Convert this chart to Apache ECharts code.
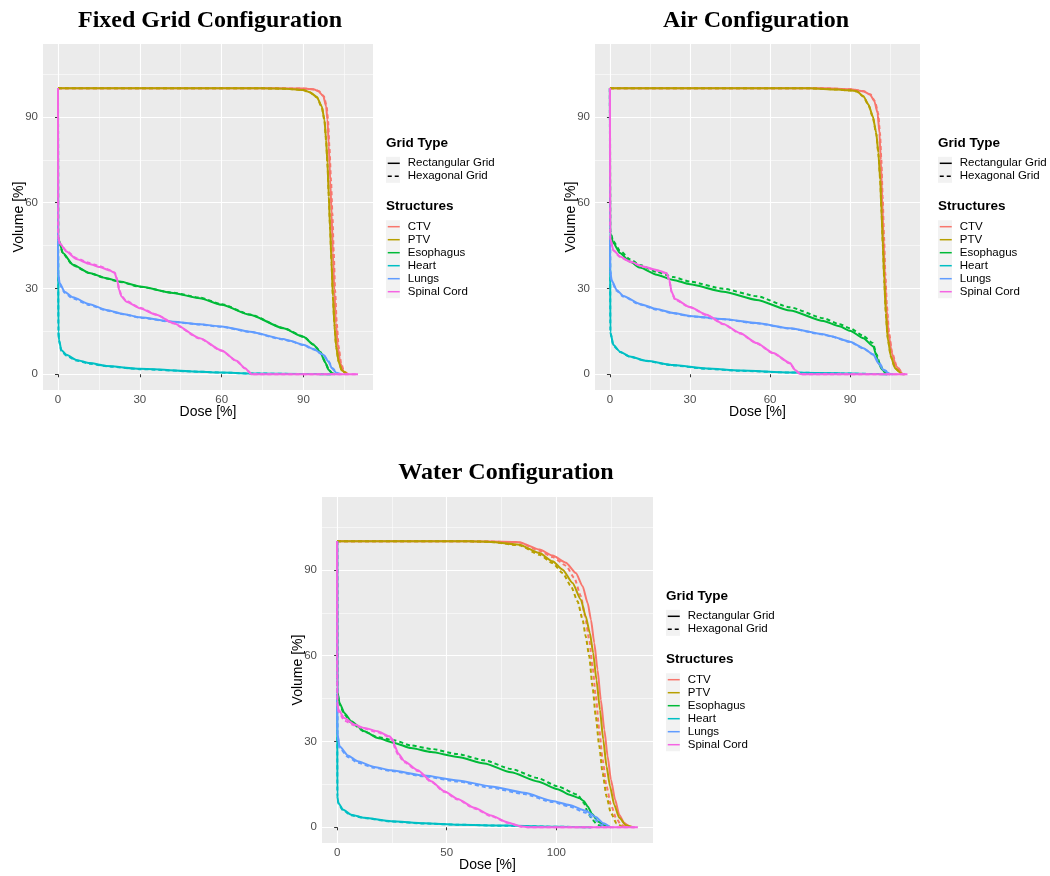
<!DOCTYPE html>
<html>
<head>
<meta charset="utf-8">
<script src="https://cdn.jsdelivr.net/npm/echarts@6/dist/echarts.min.js"></script>
<style>
  html, body { margin: 0; padding: 0; background: #ffffff; }
  #chart { width: 1050px; height: 876px; }
</style>
</head>
<body>
<div id="chart"></div>
<script>
// ---- Categories, labels and ticks ----
const structures = ['CTV', 'PTV', 'Esophagus', 'Heart', 'Lungs', 'Spinal Cord'];
const gridTypes = ['Rectangular Grid', 'Hexagonal Grid'];
const structureColors = ['#F8766D', '#B79F00', '#00BA38', '#00BFC4', '#619CFF', '#F564E3'];
const panelTitles = ['Fixed Grid Configuration', 'Air Configuration', 'Water Configuration'];
const volumeTicks = [0, 30, 60, 90];
const volumeMinorTicks = [15, 45, 75, 105];
const doseTicksFixed = [0, 30, 60, 90];
const doseMinorFixed = [15, 45, 75, 105];
const doseTicksAir = [0, 30, 60, 90];
const doseMinorAir = [15, 45, 75, 105];
const doseTicksWater = [0, 50, 100];
const doseMinorWater = [25, 75, 125];

// ---- Dose-volume curves: [dose %, volume %] ----
// Fixed grid configuration
const fixedCTVRect = [[0,100],[80,100],[90,99.9],[94,99.6],[95.5,99],[97.3,97.2],[98.3,93.7],[98.8,89],[99.3,79.7],[99.8,68],[100.3,56.4],[100.8,42.4],[101.3,29.5],[101.9,17.9],[102.6,9.7],[103.5,3.9],[104.7,0.9],[106.2,0]];
const fixedCTVHex = [[0,100],[80,100],[90,99.9],[94.2,99.6],[95.7,99],[97.5,97.2],[98.5,93.7],[99,89],[99.5,79.7],[100.1,68],[100.6,56.4],[101.1,42.4],[101.6,29.5],[102.2,17.9],[102.9,9.7],[103.8,3.9],[104.9,0.9],[106.4,0]];
const fixedPTVRect = [[0,100],[75,100],[85,99.8],[90,99.4],[92.4,98.6],[94.9,97],[96.7,93.7],[97.7,89],[98.3,82],[98.8,73.9],[99.3,62.2],[99.8,50.5],[100.3,38.9],[100.8,27.2],[101.4,16.7],[102,9.7],[102.9,4.4],[104.1,1.3],[105.9,0]];
const fixedPTVHex = [[0,100],[75,100],[85,99.8],[90,99.3],[92.4,98.5],[94.9,96.9],[96.7,93.5],[97.7,88.8],[98.3,81.8],[98.8,73.7],[99.3,62],[99.8,50.3],[100.3,38.7],[100.8,27],[101.4,16.5],[102,9.6],[102.9,4.3],[104.1,1.2],[106,0]];
const fixedEsoRect = [[0,100],[0.05,48.2],[0.3,47],[1.8,42.4],[5.5,38.3],[11.6,35.4],[17.8,33.6],[22.7,32.4],[30,30.7],[42.2,28.4],[52,26.6],[60,24.3],[70.4,20.8],[82.6,16.1],[90,13.1],[93.7,10.3],[96.1,7.9],[98,4.1],[99.2,1.6],[100.5,0.4],[101.6,0]];
const fixedEsoHex = [[0,100],[0.05,48],[0.3,46.8],[1.8,42.2],[5.5,38.1],[11.6,35.3],[17.8,33.5],[22.7,32.3],[30,30.6],[42.2,28.5],[52,26.8],[60,24.5],[70.4,20.9],[82.6,16.2],[90,13.2],[93.7,10.4],[96.1,8],[98,4.3],[99.2,1.7],[100.5,0.4],[101.8,0]];
const fixedHeartRect = [[0,100],[0.05,47],[0.15,15],[0.4,12],[1.2,8.5],[3.1,6.8],[6.7,5],[11.6,3.9],[17.8,2.9],[30,1.9],[52,0.9],[60,0.6],[70,0.3],[88.8,0.1],[100,0]];
const fixedHeartHex = [[0,100],[0.05,46.5],[0.15,14.5],[0.4,11.6],[1.2,8.2],[3.1,6.5],[6.7,4.8],[11.6,3.7],[17.8,2.8],[30,1.8],[52,0.9],[60,0.6],[70,0.3],[88.8,0.1],[100,0]];
const fixedLungsRect = [[0,100],[0.02,47],[0.05,35.4],[0.6,31.9],[2.4,28.9],[5.5,26.9],[11.6,24.5],[17.8,22.5],[23.9,21.1],[30,19.9],[42.2,18.4],[52,17.5],[60,16.7],[70.4,14.9],[82.6,12.3],[85.1,11.7],[90,10.3],[93.7,8.8],[97.3,6.8],[99.2,4.4],[100.4,2.1],[102.2,0.4],[103.5,0]];
const fixedLungsHex = [[0,100],[0.02,46.5],[0.05,35],[0.6,31.5],[2.4,28.5],[5.5,26.5],[11.6,24.2],[17.8,22.3],[23.9,21],[30,19.8],[42.2,18.3],[52,17.4],[60,16.6],[70.4,14.8],[82.6,12.2],[85.1,11.6],[90,10.2],[93.7,8.7],[97.3,6.8],[99.2,4.6],[100.6,2.2],[102.5,0.4],[103.8,0]];
const fixedSpinalRect = [[0,100],[0.05,48.2],[0.6,45.9],[3.1,42.9],[6.7,40.3],[11.6,38.6],[15.3,37.5],[19,36.3],[20.8,35.4],[21.7,33],[22.4,29.5],[23.3,27.2],[25.1,25.4],[30,23.1],[36.1,20.8],[42.2,17.9],[52,12.6],[60,8.3],[65.5,4.7],[68.6,2.1],[71,0],[110,0]];
const fixedSpinalHex = [[0,100],[0.05,48],[0.6,45.7],[3.1,43.2],[6.7,40.6],[11.6,38.9],[15.3,37.8],[19,36.5],[20.8,35.6],[21.7,33.2],[22.4,29.8],[23.3,27.4],[25.1,25.6],[30,23.3],[36.1,20.9],[42.2,17.8],[52,12.5],[60,8.2],[65.5,4.6],[68.6,2],[71.2,0],[110,0]];

// Air configuration
const airCTVRect = [[0,100],[80,100],[90,99.7],[95,99],[97.5,97.8],[99.1,95.5],[100.3,91.4],[101,84.4],[101.5,75],[102,62.2],[102.5,48.2],[103,35.4],[103.6,23.7],[104.4,14.4],[105.6,7.4],[107.3,2.7],[109.8,0.1],[110.5,0]];
const airCTVHex = [[0,100],[80,100],[90,99.7],[95.2,99],[97.7,97.8],[99.3,95.5],[100.5,91.4],[101.2,84.4],[101.7,75],[102.2,62.2],[102.7,48.2],[103.2,35.4],[103.8,23.7],[104.6,14.4],[105.8,7.4],[107.5,2.7],[110,0.1],[110.7,0]];
const airPTVRect = [[0,100],[75,100],[85,99.6],[90,99.3],[92.5,99],[95,97.2],[96.9,94.3],[98.5,90.2],[99.8,84.4],[100.6,77.4],[101.3,68],[101.8,56.4],[102.3,44.7],[102.8,33],[103.4,21.4],[104.1,12.6],[105.3,6.2],[106.9,2.1],[109.4,0.1],[110,0]];
const airPTVHex = [[0,100],[75,100],[85,99.6],[90,99.2],[92.5,98.9],[95,97.1],[96.9,94.1],[98.5,90],[99.8,84.2],[100.6,77.2],[101.3,67.8],[101.8,56.2],[102.3,44.5],[102.8,32.8],[103.4,21.2],[104.1,12.5],[105.3,6.1],[106.9,2],[109.5,0.1],[110.2,0]];
const airEsoRect = [[0,100],[0.1,49.4],[1.25,45.9],[3.75,42.4],[7.5,39.4],[11.25,37.3],[17.5,34.8],[23.75,33],[30,31.5],[42.5,28.9],[55,26],[67.5,22.3],[80,18.6],[86,16.8],[90,15.2],[95,12.6],[98.75,9.7],[99.75,6.8],[100.6,4.1],[101.9,1.75],[103.5,0.35],[105,0]];
const airEsoHex = [[0,100],[0.1,50],[1.25,46.5],[3.75,43.2],[7.5,40.2],[11.25,38.2],[17.5,35.8],[23.75,34],[30,32.4],[42.5,29.9],[55,27.3],[67.5,23.4],[80,19.6],[86,17.5],[90,16.1],[95,13.4],[98.5,10.9],[100,6.8],[101.25,3.3],[102.75,0.7],[104.4,0]];
const airHeartRect = [[0,100],[0.05,48],[0.15,15],[0.25,14.4],[1.25,10.3],[3.75,7.9],[7.5,6.2],[13.75,4.7],[23.75,3.2],[36.25,2],[48.75,1.3],[67.5,0.6],[86.25,0.35],[100,0.1],[104,0]];
const airHeartHex = [[0,100],[0.05,47.5],[0.15,14.8],[0.25,14.2],[1.25,10.1],[3.75,7.8],[7.5,6.1],[13.75,4.6],[23.75,3.1],[36.25,1.9],[48.75,1.2],[67.5,0.6],[86.25,0.3],[100,0.1],[104,0]];
const airLungsRect = [[0,100],[0.05,48],[0.1,36.5],[0.6,33],[2.5,29.5],[5,27.4],[11.25,24.6],[17.5,22.8],[23.75,21.4],[30,20.4],[42.5,19.3],[55,17.9],[67.5,16.1],[80,14],[82.5,13.4],[90,11.4],[95,9.1],[98.75,6.8],[100.6,3.9],[102.5,1.5],[105,0.1],[106,0]];
const airLungsHex = [[0,100],[0.05,47.5],[0.1,36],[0.6,32.7],[2.5,29.2],[5,27.2],[11.25,24.4],[17.5,22.6],[23.75,21.3],[30,20.3],[42.5,19.2],[55,17.8],[67.5,16],[80,13.9],[82.5,13.3],[90,11.3],[95,9],[98.75,6.9],[100.9,4],[102.8,1.5],[105.3,0.1],[106.3,0]];
const airSpinalRect = [[0,100],[0.1,47.6],[1.25,43.5],[3.75,41.2],[7.5,39.4],[12.5,37.7],[17.5,36.5],[21.25,35.4],[22.25,33],[23.1,28.9],[24.4,26.3],[30,23.5],[36.25,20.8],[42.5,17.6],[48.75,14.4],[55,10.9],[61.25,7.4],[67.5,3.9],[69.4,1.5],[71.25,0.1],[72,0],[111.5,0]];
const airSpinalHex = [[0,100],[0.1,47.4],[1.25,43.3],[3.75,41],[7.5,39.3],[12.5,37.6],[17.5,36.3],[21.25,35.3],[22.25,32.8],[23.1,28.7],[24.4,26.1],[30,23.4],[36.25,20.7],[42.5,17.5],[48.75,14.3],[55,10.8],[61.25,7.3],[67.5,3.8],[69.4,1.4],[71.5,0],[111.5,0]];

// Water configuration
const waterCTVRect = [[0,100],[60,100],[70,99.9],[80,99.8],[83.1,99.7],[92.3,97.1],[98.3,95],[104.4,92.5],[108.9,88.9],[112,84.3],[114.3,78.4],[115.8,72.6],[117.3,64.5],[118.8,55.1],[120.3,44.6],[121.9,34.1],[123.4,24.8],[124.9,16.7],[126.8,9.7],[128.7,4.4],[131,1.5],[133.3,0.3],[135.6,0]];
const waterCTVHex = [[0,100],[60,100],[70,99.9],[80,99.7],[83.1,99.6],[92.3,96.7],[98.3,94.5],[104.4,91.5],[108.2,87.2],[111.2,80.8],[113.1,73.8],[115,65.6],[116.5,56.3],[118,45.8],[119.6,34.1],[121.1,23.7],[122.9,14.3],[124.9,7.9],[127.2,3.3],[129.5,0.9],[131.8,0]];
const waterPTVRect = [[0,100],[60,100],[70,99.8],[83.1,98.8],[92.3,95.9],[98.3,93],[102.9,90.1],[107.4,85.4],[111.2,79.6],[113.4,73.8],[115.3,67.9],[116.8,61],[118.3,51.6],[119.9,41.1],[121.4,30.7],[122.9,21.3],[124.5,14.3],[126.4,7.9],[128.7,3.3],[131.8,0.7],[134.8,0]];
const waterPTVHex = [[0,100],[60,100],[70,99.8],[83.1,98.6],[92.3,95.3],[98.3,92.4],[102.9,88.9],[106.7,84.3],[109.7,79],[112,72.6],[113.4,66.8],[115,59.8],[116.5,49.3],[118,38.8],[119.6,28.3],[121.1,19],[122.9,10.8],[124.9,5],[127.5,1.3],[130.3,0]];
const waterEsoRect = [[0,100],[0.1,47.6],[1.1,43.5],[3.3,40],[6.4,37.1],[12.5,33.6],[18.5,31.2],[26.1,29.5],[33.7,27.7],[42.9,26.3],[55,24.6],[67.2,22.3],[79.3,19.2],[91.5,16],[100.6,13.3],[106,11.4],[110.5,10.2],[112.5,9.2],[114.3,7.3],[116.3,4.6],[119,2],[122,0.6],[124.9,0]];
const waterEsoHex = [[0,100],[0.1,47.2],[1.1,43],[3.3,39.5],[6.4,36.6],[12.5,33.4],[18.5,31.5],[26.1,30.4],[33.7,28.6],[42.9,27.4],[55,25.6],[67.2,23.4],[79.3,20.4],[91.5,17.2],[100.6,14.3],[109.7,11.4],[112.5,8.5],[114.5,5],[116.5,2.5],[119,0.8],[121.5,0]];
const waterHeartRect = [[0,100],[0.05,47],[0.1,10.8],[0.6,8.5],[2.6,6.2],[6.4,4.4],[12.5,3.3],[24.6,2.1],[39.8,1.4],[55,0.9],[77.8,0.6],[100.6,0.2],[115.8,0]];
const waterHeartHex = [[0,100],[0.05,46.5],[0.1,10.5],[0.6,8.2],[2.6,6],[6.4,4.2],[12.5,3.2],[24.6,2],[39.8,1.3],[55,0.9],[77.8,0.5],[100.6,0.2],[116,0]];
const waterLungsRect = [[0,100],[0.05,47],[0.1,33],[1.1,28.3],[4.9,25.1],[9.4,23.1],[17,21.1],[24.6,19.9],[39.8,18.1],[55,16.4],[70.2,14.3],[85.4,12.1],[98.3,9.2],[106,7.8],[113.4,5.8],[118,3.6],[121.5,1.4],[124.5,0]];
const waterLungsHex = [[0,100],[0.05,46.5],[0.1,32.5],[1.1,27.8],[4.9,24.6],[9.4,22.6],[17,20.8],[24.6,19.7],[39.8,17.8],[55,16],[70.2,13.8],[85.4,11.6],[98.3,8.8],[106,7.3],[113.4,5.1],[117.5,2.8],[120.5,0.9],[123,0]];
const waterSpinalRect = [[0,100],[0.05,43.5],[0.6,41.1],[3.3,38.2],[7.9,35.9],[12.5,34.7],[18.5,33.6],[23.9,31.8],[25.4,30.7],[26.4,28.3],[27.7,26],[30.7,23.1],[36.8,19.9],[42.9,16.1],[48.9,12.6],[55,9.9],[62.6,6.8],[70.2,4.1],[77.8,1.7],[83.9,0.3],[86.9,0],[137.2,0]];
const waterSpinalHex = [[0,100],[0.05,43],[0.6,40.5],[3.3,37.3],[7.9,35.6],[12.5,34.5],[18.5,33.2],[23.9,31.5],[25.4,30.2],[26.4,27.6],[27.7,25.5],[30.7,22.7],[36.8,19.7],[42.9,15.9],[48.9,12.4],[55,9.7],[62.6,6.6],[70.2,3.9],[77.8,1.6],[83.9,0.2],[87.2,0],[137.2,0]];

// ---- Panel layout ----
const panels = [
  {
    title: panelTitles[0], titleX: 210, titleY: 9,
    grid: { left: 43, top: 44, width: 330, height: 346 },
    dose: [-5.5, 115.5], doseTicks: doseTicksFixed, doseMinor: doseMinorFixed,
    legendX: 386,
    curves: [[fixedCTVRect, fixedCTVHex], [fixedPTVRect, fixedPTVHex], [fixedEsoRect, fixedEsoHex],
             [fixedHeartRect, fixedHeartHex], [fixedLungsRect, fixedLungsHex], [fixedSpinalRect, fixedSpinalHex]]
  },
  {
    title: panelTitles[1], titleX: 756, titleY: 9,
    grid: { left: 595, top: 44, width: 325, height: 346 },
    dose: [-5.6, 116.2], doseTicks: doseTicksAir, doseMinor: doseMinorAir,
    legendX: 938,
    curves: [[airCTVRect, airCTVHex], [airPTVRect, airPTVHex], [airEsoRect, airEsoHex],
             [airHeartRect, airHeartHex], [airLungsRect, airLungsHex], [airSpinalRect, airSpinalHex]]
  },
  {
    title: panelTitles[2], titleX: 506, titleY: 461,
    grid: { left: 322, top: 497, width: 331, height: 346 },
    dose: [-6.9, 144.1], doseTicks: doseTicksWater, doseMinor: doseMinorWater,
    legendX: 666,
    curves: [[waterCTVRect, waterCTVHex], [waterPTVRect, waterPTVHex], [waterEsoRect, waterEsoHex],
             [waterHeartRect, waterHeartHex], [waterLungsRect, waterLungsHex], [waterSpinalRect, waterSpinalHex]]
  }
];

const SANS = 'Liberation Sans, Arial, Helvetica, sans-serif';
const SERIF = 'Liberation Serif, Times New Roman, serif';
const volumeRange = [-5.5, 115.5];

const grids = [], xAxes = [], yAxes = [], series = [], titles = [], legends = [], graphics = [];

panels.forEach((p, i) => {
  grids.push(Object.assign({ show: true, backgroundColor: '#EBEBEB', borderWidth: 0 }, p.grid));

  // major dose axis with labels and ticks
  xAxes.push({
    type: 'value', gridIndex: i, position: 'bottom',
    min: p.dose[0], max: p.dose[1],
    name: 'Dose [%]', nameLocation: 'middle', nameGap: 15, nameMoveOverlap: false,
    nameTextStyle: { fontFamily: SANS, fontSize: 14, color: '#000' },
    axisLine: { show: false },
    axisTick: { show: true, length: 3, customValues: p.doseTicks, lineStyle: { color: '#333', width: 1 } },
    axisLabel: { customValues: p.doseTicks, margin: 4, fontFamily: SANS, fontSize: 11.5, color: '#4D4D4D' },
    splitLine: { show: true, lineStyle: { color: '#FFFFFF', width: 1.1 } }
  });
  // minor dose grid lines
  xAxes.push({
    type: 'value', gridIndex: i, position: 'top',
    min: p.dose[0], max: p.dose[1],
    axisLine: { show: false },
    axisTick: { show: false, customValues: p.doseMinor },
    axisLabel: { show: false },
    splitLine: { show: true, lineStyle: { color: '#FFFFFF', width: 0.55 } }
  });
  // major volume axis
  yAxes.push({
    type: 'value', gridIndex: i, position: 'left',
    min: volumeRange[0], max: volumeRange[1],
    name: 'Volume [%]', nameLocation: 'middle', nameGap: 17, nameRotate: 90, nameMoveOverlap: false,
    nameTextStyle: { fontFamily: SANS, fontSize: 14, color: '#000' },
    axisLine: { show: false },
    axisTick: { show: true, length: 3, customValues: volumeTicks, lineStyle: { color: '#333', width: 1 } },
    axisLabel: { customValues: volumeTicks, margin: 5, fontFamily: SANS, fontSize: 11.5, color: '#4D4D4D' },
    splitLine: { show: true, lineStyle: { color: '#FFFFFF', width: 1.1 } }
  });
  // minor volume grid lines
  yAxes.push({
    type: 'value', gridIndex: i, position: 'right',
    min: volumeRange[0], max: volumeRange[1],
    axisLine: { show: false },
    axisTick: { show: false, customValues: volumeMinorTicks },
    axisLabel: { show: false },
    splitLine: { show: true, lineStyle: { color: '#FFFFFF', width: 0.55 } }
  });

  // curves: solid = rectangular grid, dashed = hexagonal grid
  p.curves.forEach((pair, s) => {
    pair.forEach((data, t) => {
      series.push({
        type: 'line', name: structures[s],
        xAxisIndex: 2 * i, yAxisIndex: 2 * i,
        data: data, symbol: 'none', smooth: 0.2, smoothMonotone: 'x',
        silent: true, animation: false,
        itemStyle: { color: structureColors[s] },
        lineStyle: { color: structureColors[s], width: 2, type: t === 0 ? 'solid' : [4, 3] }
      });
    });
  });

  // titles
  titles.push({
    text: p.title, left: p.titleX, top: p.titleY, textAlign: 'center', padding: 0,
    textStyle: { fontFamily: SERIF, fontWeight: 'bold', fontSize: 24, color: '#000' }
  });
  const T = p.grid.top;
  titles.push({
    text: 'Grid Type', left: p.legendX, top: T + 92.5, padding: 0,
    textStyle: { fontFamily: SANS, fontWeight: 'bold', fontSize: 13.5, color: '#000' }
  });
  titles.push({
    text: 'Structures', left: p.legendX, top: T + 155.3, padding: 0,
    textStyle: { fontFamily: SANS, fontWeight: 'bold', fontSize: 13.5, color: '#000' }
  });

  const legendBase = {
    orient: 'vertical', left: p.legendX + 1, itemWidth: 12, itemHeight: 13, itemGap: 0, padding: 0,
    selectedMode: false,
    itemStyle: { opacity: 0 },
    lineStyle: { width: 1.5 },
    textStyle: { fontFamily: SANS, fontSize: 11.5, lineHeight: 13, color: '#000', padding: [0, 0, 0, 3] }
  };
  legends.push(Object.assign({}, legendBase, { top: T + 112.8, data: gridTypes }));
  legends.push(Object.assign({}, legendBase, { top: T + 176.2, data: structures }));

  // light key backgrounds behind the legend symbols
  graphics.push({ type: 'rect', z: -10, shape: { x: p.legendX, y: T + 112.8, width: 14, height: 26 }, style: { fill: '#F2F2F2' } });
  graphics.push({ type: 'rect', z: -10, shape: { x: p.legendX, y: T + 176.2, width: 14, height: 78 }, style: { fill: '#F2F2F2' } });
});

// legend entries for the line type
series.push({
  type: 'line', name: gridTypes[0], xAxisIndex: 0, yAxisIndex: 0, data: [], symbol: 'none',
  itemStyle: { color: '#000' }, lineStyle: { color: '#000', width: 1.5, type: 'solid' }
});
series.push({
  type: 'line', name: gridTypes[1], xAxisIndex: 0, yAxisIndex: 0, data: [], symbol: 'none',
  itemStyle: { color: '#000' }, lineStyle: { color: '#000', width: 1.5, type: [4, 3] }
});

const chart = echarts.init(document.getElementById('chart'), null, { renderer: 'canvas' });
chart.setOption({
  backgroundColor: '#FFFFFF',
  animation: false,
  title: titles,
  legend: legends,
  grid: grids,
  xAxis: xAxes,
  yAxis: yAxes,
  series: series,
  graphic: graphics
});
</script>
</body>
</html>
